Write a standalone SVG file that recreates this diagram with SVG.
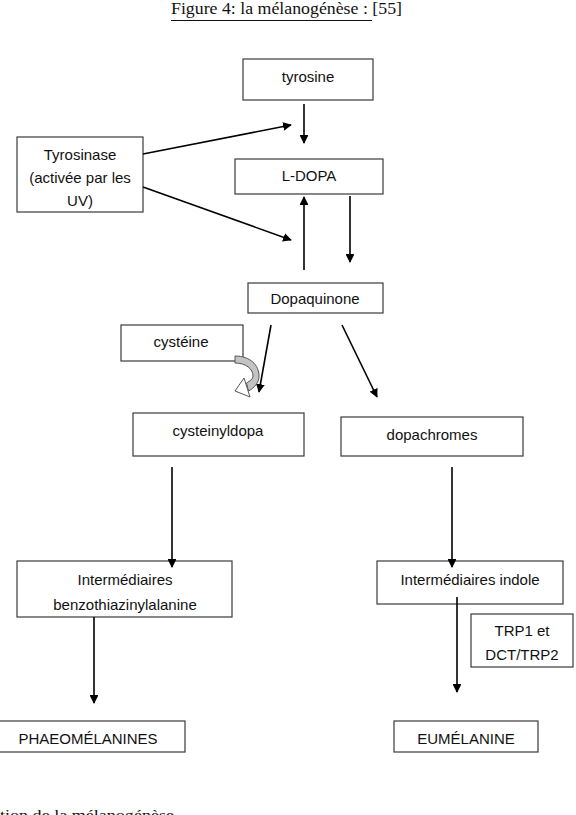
<svg xmlns="http://www.w3.org/2000/svg" width="576" height="815" viewBox="0 0 576 815">
<style>
.box{fill:#fff;stroke:#3a3a3a;stroke-width:1.2}
.t{font-family:"Liberation Sans",Arial,sans-serif;font-size:15px;fill:#111;text-anchor:middle}
.c{stroke:#000;stroke-width:1.6;fill:none;marker-end:url(#ah)}
.serif{font-family:"Liberation Serif","Times New Roman",serif;fill:#111}
</style>
<defs>
<marker id="ah" viewBox="0 0 10 10" refX="9" refY="5" markerWidth="5.5" markerHeight="5.5" orient="auto" markerUnits="strokeWidth">
<path d="M0,0 L10,5 L0,10 Z" fill="#000"/>
</marker>
</defs>
<rect width="576" height="815" fill="#fff"/>
<text class="serif" x="171" y="14" font-size="17" textLength="231" lengthAdjust="spacingAndGlyphs">Figure 4: la mélanogénèse : [55]</text>
<line x1="171" y1="20.5" x2="372" y2="20.5" stroke="#111" stroke-width="1"/>
<text class="serif" x="0" y="820" font-size="15" textLength="174" lengthAdjust="spacingAndGlyphs">tion de la mélanogénèse</text>

<g id="tyrosine"><rect class="box" x="243" y="59" width="130" height="41"/><text class="t" x="308" y="82">tyrosine</text></g>
<g id="ldopa"><rect class="box" x="235" y="159" width="148" height="35"/><text class="t" x="309" y="181">L-DOPA</text></g>
<g id="tyrosinase"><rect class="box" x="17" y="137" width="126" height="75"/>
<text class="t" x="80" y="160">Tyrosinase</text><text class="t" x="80" y="183">(activée par les</text><text class="t" x="80" y="206">UV)</text></g>
<g id="dopaquinone"><rect class="box" x="248" y="283" width="135" height="30"/><text class="t" x="315" y="304">Dopaquinone</text></g>
<g id="cysteine"><rect class="box" x="121" y="325" width="122" height="36"/><text class="t" x="181" y="347">cystéine</text></g>
<g id="cysteinyldopa"><rect class="box" x="133" y="413" width="171" height="43"/><text class="t" x="218" y="436">cysteinyldopa</text></g>
<g id="dopachromes"><rect class="box" x="341" y="417" width="182" height="39"/><text class="t" x="432" y="440">dopachromes</text></g>
<g id="benzo"><rect class="box" x="17" y="561" width="215" height="56"/>
<text class="t" x="125" y="585">Intermédiaires</text><text class="t" x="125" y="610">benzothiazinylalanine</text></g>
<g id="indole"><rect class="box" x="377" y="561" width="186" height="43"/><text class="t" x="470" y="585">Intermédiaires indole</text></g>
<g id="trp"><rect class="box" x="471" y="614" width="102" height="53"/>
<text class="t" x="522" y="636">TRP1 et</text><text class="t" x="522" y="660">DCT/TRP2</text></g>
<g id="phaeo"><rect class="box" x="-8" y="721" width="193" height="31"/><text class="t" x="88" y="744">PHAEOMÉLANINES</text></g>
<g id="eumelanine"><rect class="box" x="394" y="721" width="144" height="31"/><text class="t" x="466" y="744">EUMÉLANINE</text></g>

<g id="cysteine-arrow">
<path d="M235,356 C250,356 259,365 259,376 C259,383 254,388 248.5,391 L246.5,383 C250,381 253,379 253,376 C253,369 246,363 235,363 Z" fill="#c4c4c4" stroke="#555" stroke-width="1"/>
<path d="M244,378 L250,397 L235,391 Z" fill="#fff" stroke="#555" stroke-width="1"/>
</g>

<g id="connectors">
<line class="c" x1="304" y1="104" x2="304" y2="143"/>
<line class="c" x1="143" y1="154" x2="291" y2="125"/>
<line class="c" x1="143" y1="187" x2="291" y2="240"/>
<line class="c" x1="304" y1="270" x2="304" y2="197"/>
<line class="c" x1="350" y1="196" x2="350" y2="262"/>
<line class="c" x1="271" y1="325" x2="259" y2="392"/>
<line class="c" x1="342" y1="325" x2="377" y2="397"/>
<line class="c" x1="172" y1="467" x2="172" y2="567"/>
<line class="c" x1="452" y1="467" x2="452" y2="567"/>
<line class="c" x1="94" y1="617" x2="94" y2="703"/>
<line class="c" x1="457" y1="597" x2="457" y2="692"/>
</g>
</svg>
